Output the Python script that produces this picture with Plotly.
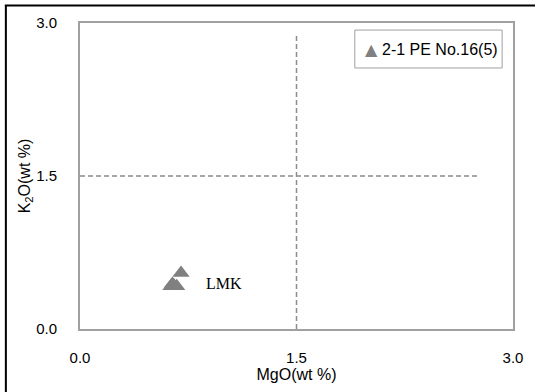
import plotly.graph_objects as go

# Data
mgo = [0.63, 0.65, 0.67, 0.64, 0.70]
k2o = [0.42, 0.43, 0.42, 0.44, 0.55]
series_name = "2-1 PE No.16(5)"

vline_x = [1.5, 1.5]
vline_y = [0.0, 2.9]
hline_x = [0.0, 2.77]
hline_y = [1.5, 1.5]

tick_vals = [0.0, 1.5, 3.0]
tick_text = ["0.0", "1.5", "3.0"]

label_text = "LMK"
label_pos = (0.86, 0.45)

MARKER_COLOR = "#808080"
FONT = "Liberation Sans"

fig = go.Figure()
dash_style = dict(color="#8c8c8c", width=1.5, dash="5px,3px")
fig.add_trace(go.Scatter(x=vline_x, y=vline_y, mode="lines", line=dash_style,
                         showlegend=False, hoverinfo="skip"))
fig.add_trace(go.Scatter(x=hline_x, y=hline_y, mode="lines", line=dash_style,
                         showlegend=False, hoverinfo="skip"))
fig.add_trace(go.Scatter(x=mgo, y=k2o, mode="markers", name=series_name, showlegend=False,
                         marker=dict(symbol="triangle-up", size=15, color=MARKER_COLOR,
                                     line=dict(width=0))))

fig.add_annotation(x=label_pos[0], y=label_pos[1], text=label_text, showarrow=False,
                   xanchor="left", yanchor="middle",
                   font=dict(family="Liberation Serif", size=16, color="black"))

# Legend box (drawn manually to match the compact original layout)
fig.add_shape(type="rect", xref="paper", yref="paper", x0=0.6347, x1=0.9749, y0=0.853, y1=0.977,
              line=dict(color="#a0a0a0", width=1), fillcolor="white", layer="above")
fig.add_annotation(xref="paper", yref="paper", x=0.6735, y=0.912, text="▲", showarrow=False,
                   xanchor="center", yanchor="middle",
                   font=dict(family="DejaVu Sans", size=16, color=MARKER_COLOR))
fig.add_annotation(xref="paper", yref="paper", x=0.692, y=0.915, text=series_name, showarrow=False,
                   xanchor="left", yanchor="middle",
                   font=dict(family=FONT, size=16, color="black"))

# Outer black frame (left and top edges visible)
fig.add_shape(type="line", xref="paper", yref="paper", x0=-0.1712, x1=-0.1712, y0=-0.3, y1=1.059,
              line=dict(color="black", width=2))
fig.add_shape(type="line", xref="paper", yref="paper", x0=-0.1735, x1=1.1, y0=1.057, y1=1.057,
              line=dict(color="black", width=2))

axis_common = dict(range=[0, 3], tickvals=tick_vals, ticktext=tick_text,
                   showgrid=False, zeroline=False, showline=True, mirror=True,
                   linecolor="#a0a0a0", linewidth=2, ticks="",
                   tickfont=dict(family=FONT, size=15, color="black"),
                   title_font=dict(family=FONT, size=16, color="black"))

fig.update_layout(
    width=535, height=392,
    margin=dict(l=80, r=17, t=23, b=63),
    paper_bgcolor="white", plot_bgcolor="white",
    xaxis=dict(**axis_common, title=dict(text="MgO(wt %)", standoff=3), ticklabelstandoff=14),
    yaxis=dict(**axis_common, title=dict(text="K<sub>2</sub>O(wt %)", standoff=2), ticklabelstandoff=18),
    showlegend=False,
)

fig.write_html("out.html")
